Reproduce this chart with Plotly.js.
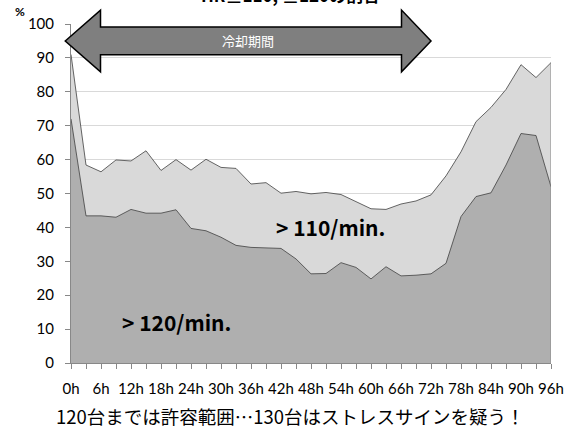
<!DOCTYPE html>
<html>
<head>
<meta charset="utf-8">
<script src="https://cdn.plot.ly/plotly-3.0.1.min.js"></script>
<style>html,body{margin:0;padding:0;background:#fff;}#chart{width:579px;height:433px;}</style>
</head>
<body>
<div id="chart"></div>
<script>
// Data
const hours = [0,3,6,9,12,15,18,21,24,27,30,33,36,39,42,45,48,51,54,57,60,63,66,69,72,75,78,81,84,87,90,93,96];
const tickLabels = ["0h","6h","12h","18h","24h","30h","36h","42h","48h","54h","60h","66h","72h","78h","84h","90h","96h"];
const over110 = [91,58.4,56.4,59.9,59.6,62.6,56.8,60.0,56.9,60.1,57.7,57.4,52.8,53.2,50.1,50.6,49.9,50.3,49.7,47.6,45.5,45.3,46.9,47.8,49.6,55.2,62.3,71.2,75.4,80.7,88.0,84.2,88.6];
const over120 = [72,43.4,43.4,43.0,45.3,44.2,44.2,45.2,39.7,39.0,37.1,34.7,34.1,33.9,33.8,30.7,26.3,26.4,29.6,28.2,24.8,28.4,25.7,25.9,26.3,29.4,43.2,49.1,50.2,58.4,67.7,67.1,52.0];
const seriesNames = ["> 110/min.", "> 120/min."];
const coolingLabel = "冷却期間";
const coolingStart = 0, coolingEnd = 72;
const chartTitle = "HR≧110, ≧120の割合";
const caption = "120台までは許容範囲…130台はストレスサインを疑う！";

const W = 579, H = 433;
const mL = 71, mR = 28, mT = 24, mB = 70;
const pw = W - mL - mR, ph = H - mT - mB;
const xr = [0, 96], yr = [0, 100];
// helpers: data -> paper (for shapes that must not be clipped)
const px = v => (v - xr[0]) / (xr[1] - xr[0]);
const py = v => (v - yr[0]) / (yr[1] - yr[0]);
// pixel -> paper
const ppx = p => (p - mL) / pw;
const ppy = p => (H - mB - p) / ph;

const line = {color: '#404040', width: 0.8};
const traces = [
  {x: hours, y: over110, type: 'scatter', mode: 'lines', fill: 'tozeroy', fillcolor: '#d9d9d9', line: line, name: seriesNames[0], hoverinfo: 'skip'},
  {x: hours, y: over120, type: 'scatter', mode: 'lines', fill: 'tozeroy', fillcolor: '#afafaf', line: line, name: seriesNames[1], hoverinfo: 'skip'}
];

// double-headed arrow (cooling period) in paper coords
const headLen = 5.9; // hours
const cy = 95, shaftHalf = 4.1, headHalf = 9.1;
const ax0 = px(coolingStart) - 0.012, ax1 = px(coolingEnd);
const ah0 = px(coolingStart + headLen), ah1 = px(coolingEnd - headLen);
const yc = py(cy), yst = py(cy + shaftHalf), ysb = py(cy - shaftHalf), yht = py(cy + headHalf), yhb = py(cy - headHalf);
const pathStr = `M${ax0},${yc} L${ah0},${yht} L${ah0},${yst} L${ah1},${yst} L${ah1},${yht} L${ax1},${yc} L${ah1},${yhb} L${ah1},${ysb} L${ah0},${ysb} L${ah0},${yhb} Z`;

const lastH = hours[hours.length-1];
const jp = '"Noto Sans CJK JP", sans-serif';
const ann = (o) => Object.assign({showarrow: false, xanchor: 'center', yanchor: 'middle'}, o);
const layout = {
  width: W, height: H,
  margin: {l: mL, r: mR, t: mT, b: mB},
  paper_bgcolor: '#fff', plot_bgcolor: '#fff',
  showlegend: false,
  font: {family: 'Lato, "Noto Sans CJK JP", sans-serif', color: '#000', size: 13},
  xaxis: {
    range: xr, tickvals: hours,
    ticktext: hours.map(h => h % 6 === 0 ? tickLabels[h/6] : ''),
    ticks: 'outside', ticklen: 5, tickcolor: '#888', tickwidth: 1,
    showline: true, linecolor: '#888', linewidth: 1,
    showgrid: false, zeroline: false, ticklabelstandoff: 7,
    tickfont: {size: 15, family: 'Lato, sans-serif', color: '#000'}
  },
  yaxis: {
    range: yr, dtick: 10, tick0: 0,
    ticks: 'outside', ticklen: 5, tickcolor: '#888', tickwidth: 1,
    showline: true, linecolor: '#888', linewidth: 1,
    showgrid: true, gridcolor: '#d9d9d9', gridwidth: 1, zeroline: false,
    ticklabelstandoff: 8,
    tickfont: {size: 15, family: 'Lato, sans-serif', color: '#000'}
  },
  shapes: [
    {type: 'line', xref: 'x', yref: 'y', x0: lastH, x1: lastH, y0: 0, y1: over110[over110.length-1], line: {color: '#888', width: 1}},
    {type: 'path', xref: 'paper', yref: 'paper', path: pathStr, fillcolor: '#7f7f7f', line: {color: '#000', width: 1.5}, layer: 'above'}
  ],
  annotations: [
    ann({xref: 'paper', yref: 'paper', x: (ax0 + ax1)/2, y: yc, text: coolingLabel, font: {size: 13, color: '#fff', family: jp}}),
    ann({xref: 'x', yref: 'y', x: 51.8, y: 40.2, text: seriesNames[0], font: {size: 21, color: '#000', family: jp, weight: 'bold'}}),
    ann({xref: 'x', yref: 'y', x: 21, y: 12.2, text: seriesNames[1], font: {size: 21, color: '#000', family: jp, weight: 'bold'}}),
    ann({xref: 'paper', yref: 'paper', x: ppx(20), y: ppy(12), text: '<b>%</b>', font: {size: 12, color: '#000', family: 'Lato, sans-serif'}}),
    ann({xref: 'paper', yref: 'paper', x: ppx(290), y: ppy(-6), text: '<b>' + chartTitle + '</b>', font: {size: 17, color: '#000', family: jp}}),
    ann({xref: 'paper', yref: 'paper', x: ppx(290), y: ppy(416), text: caption, font: {size: 18.5, color: '#000', family: jp}})
  ]
};

Plotly.newPlot('chart', traces, layout, {displayModeBar: false, staticPlot: true});
</script>
</body>
</html>
